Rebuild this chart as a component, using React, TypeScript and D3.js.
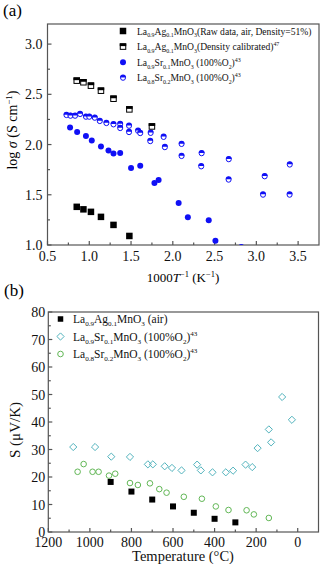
import { useEffect, useRef } from "react";
import * as d3 from "d3";

// (a) conductivity, x = 1000/T
const agInvT = [0.85, 0.93, 1.02, 1.14, 1.29, 1.48, 1.75];
const agRawLogS = [1.38, 1.355, 1.33, 1.28, 1.2, 1.09, 0.92];
const agCalLogS = [2.636, 2.62, 2.586, 2.536, 2.456, 2.35, 2.18];

const sr1InvT = [0.77, 0.855, 0.96, 1.03, 1.14, 1.23, 1.29, 1.37, 1.5, 1.61, 1.78, 1.83, 2.07, 2.18, 2.43, 2.51, 2.82];
const sr1LogS = [2.17, 2.126, 2.086, 2.04, 1.98, 1.94, 1.91, 1.917, 1.767, 1.79, 1.617, 1.647, 1.417, 1.277, 1.247, 1.043, 0.98];

const sr2InvT = [0.727, 0.775, 0.83, 0.89, 0.96, 1.0, 1.066, 1.126, 1.205, 1.29, 1.37, 1.37, 1.476, 1.476, 1.584, 1.61, 1.735, 1.73, 1.89, 1.905, 2.105, 2.105, 2.345, 2.34, 2.67, 2.668, 3.1, 3.08, 3.4, 3.398];
const sr2LogS = [2.293, 2.286, 2.286, 2.303, 2.276, 2.276, 2.266, 2.233, 2.213, 2.2, 2.203, 2.163, 2.186, 2.123, 2.136, 2.113, 2.115, 2.033, 2.075, 1.973, 2.005, 1.885, 1.913, 1.782, 1.853, 1.65, 1.683, 1.5, 1.8, 1.5];

// (b) Seebeck, x = temperature in C
const agTemp = [900, 800, 700, 600, 500, 400, 300];
const agSeebeck = [18.2, 14.7, 11.8, 9.3, 7.0, 4.8, 3.5];

const sr1Temp = [1080, 975, 897, 807, 721, 697, 640, 605, 559, 484, 466, 410, 346, 311, 251, 219, 193, 139, 128, 75, 28];
const sr1Seebeck = [30.9, 30.9, 27.4, 27.3, 24.6, 24.6, 23.9, 23.3, 22.4, 24.5, 22.4, 21.7, 21.7, 22.3, 24.5, 23.6, 30.5, 37.3, 32.6, 49.1, 40.8];

const sr2Temp = [1059, 1030, 987, 958, 908, 878, 807, 769, 711, 666, 631, 548, 461, 394, 333, 246, 211, 139];
const sr2Seebeck = [21.9, 24.7, 21.9, 21.9, 20.5, 21.2, 17.8, 17.1, 17.7, 15.6, 14.3, 12.8, 12.1, 9.3, 8.0, 7.9, 6.4, 5.1];

type Part = [string, string?];
const legendA: Part[][] = [
  [["La"], ["0.9", "sub"], ["Ag"], ["0.1", "sub"], ["MnO"], ["3", "sub"], ["(Raw data, air, Density=51%)"]],
  [["La"], ["0.9", "sub"], ["Ag"], ["0.1", "sub"], ["MnO"], ["3", "sub"], ["(Density calibrated)"], ["47", "sup"]],
  [["La"], ["0.9", "sub"], ["Sr"], ["0.1", "sub"], ["MnO"], ["3", "sub"], [" (100%O"], ["2", "sub"], [")"], ["43", "sup"]],
  [["La"], ["0.8", "sub"], ["Sr"], ["0.2", "sub"], ["MnO"], ["3", "sub"], [" (100%O"], ["2", "sub"], [")"], ["43", "sup"]],
];
const legendB: Part[][] = [
  [["La"], ["0.9", "sub"], ["Ag"], ["0.1", "sub"], ["MnO"], ["3", "sub"], [" (air)"]],
  [["La"], ["0.9", "sub"], ["Sr"], ["0.1", "sub"], ["MnO"], ["3", "sub"], [" (100%O"], ["2", "sub"], [")"], ["43", "sup"]],
  [["La"], ["0.8", "sub"], ["Sr"], ["0.2", "sub"], ["MnO"], ["3", "sub"], [" (100%O"], ["2", "sub"], [")"], ["43", "sup"]],
];

const FONT = "'Liberation Serif', 'Times New Roman', serif";
const BLUE = "#1010f5";
const CYAN = "#52b3bd";
const GREEN = "#62b756";

function formula(sel: any, parts: Part[], fs: number) {
  let shift = 0;
  parts.forEach(([t, k]) => {
    const target = k === "sub" ? fs * 0.3 : k === "sup" ? -fs * 0.4 : 0;
    sel.append("tspan")
      .attr("dy", target - shift)
      .attr("font-size", k ? fs * 0.62 : fs)
      .text(t);
    shift = target;
  });
}

// marker drawers, centered at 0,0
function filledSquare(g: any, s: number) {
  g.append("rect").attr("x", -s / 2).attr("y", -s / 2).attr("width", s).attr("height", s).attr("fill", "#000");
}
function halfSquare(g: any, s: number) {
  g.append("rect").attr("x", -s / 2 + 0.5).attr("y", -s / 2 + 0.5).attr("width", s - 1).attr("height", s - 1)
    .attr("fill", "#fff").attr("stroke", "#000").attr("stroke-width", 1);
  g.append("rect").attr("x", -s / 2).attr("y", -s / 2).attr("width", s).attr("height", s / 2 - 0.5).attr("fill", "#000");
}
function filledCircle(g: any, r: number) {
  g.append("circle").attr("r", r).attr("fill", BLUE);
}
function halfCircle(g: any, r: number) {
  g.append("circle").attr("r", r - 0.5).attr("fill", "#fff").attr("stroke", BLUE).attr("stroke-width", 1);
  g.append("path").attr("d", `M${-r},-0.4A${r},${r} 0 0 1 ${r},-0.4Z`).attr("fill", BLUE);
}
function openDiamond(g: any, s: number) {
  g.append("path").attr("d", `M0,${-s}L${s},0L0,${s}L${-s},0Z`).attr("fill", "none").attr("stroke", CYAN).attr("stroke-width", 1);
}
function openCircle(g: any, r: number) {
  g.append("circle").attr("r", r).attr("fill", "none").attr("stroke", GREEN).attr("stroke-width", 1);
}

function frameAxes(svg: any, x: any, y: any, xMajor: number[], xMinor: number[], yMajor: number[], yMinor: number[], xFmt: any, yFmt: any, yPad: number, xPad: number) {
  const [x0, x1] = x.range();
  const [y0, y1] = y.range();
  const ax = svg.append("g").attr("font-family", FONT);
  // frame
  ax.append("rect").attr("x", x0).attr("y", y1).attr("width", x1 - x0).attr("height", y0 - y1)
    .attr("fill", "none").attr("stroke", "#555").attr("stroke-width", 1.2);
  const tick = (x1a: number, y1a: number, x2a: number, y2a: number) =>
    ax.append("line").attr("x1", x1a).attr("y1", y1a).attr("x2", x2a).attr("y2", y2a).attr("stroke", "#555").attr("stroke-width", 1.2);
  xMajor.forEach((v) => tick(x(v), y0, x(v), y0 - 4));
  xMinor.forEach((v) => tick(x(v), y0, x(v), y0 - 2.5));
  yMajor.forEach((v) => tick(x0, y(v), x0 + 4, y(v)));
  yMinor.forEach((v) => tick(x0, y(v), x0 + 2.5, y(v)));
  ax.selectAll(".xl").data(xMajor).join("text")
    .attr("x", (d: number) => x(d)).attr("y", y0 + xPad).attr("text-anchor", "middle")
    .attr("font-size", 14).attr("fill", "#111").text(xFmt);
  ax.selectAll(".yl").data(yMajor).join("text")
    .attr("x", x0 - yPad).attr("y", (d: number) => y(d) + 5).attr("text-anchor", "end")
    .attr("font-size", 14).attr("fill", "#111").text(yFmt);
}

export default function App() {
  const svgRef = useRef<SVGSVGElement>(null);

  useEffect(() => {
    const svg = d3.select(svgRef.current);
    svg.selectAll("*").remove();

    // ---------- panel (a)
    const xa = d3.scaleLinear().domain([0.5, 3.75]).range([47.5, 319]);
    const ya = d3.scaleLinear().domain([1.0, 3.2]).range([245, 24]);

    svg.append("text").attr("x", 3).attr("y", 16).attr("font-family", FONT).attr("font-size", 17).text("(a)");

    frameAxes(svg, xa, ya,
      d3.range(0.5, 3.51, 0.5), d3.range(0.75, 3.75, 0.5),
      d3.range(1.0, 3.01, 0.5), d3.range(1.25, 3.2, 0.5),
      (d: number) => d.toFixed(1), (d: number) => d.toFixed(1), 5, 16);

    svg.append("clipPath").attr("id", "clipA").append("rect")
      .attr("x", 47.5).attr("y", 24).attr("width", 319 - 47.5).attr("height", 245 - 24);
    const pa = svg.append("g").attr("clip-path", "url(#clipA)");

    const put = (g: any, xs: number[], ys: number[], x: any, y: any, draw: (g: any) => void) => {
      xs.forEach((v, i) => {
        const m = g.append("g").attr("transform", `translate(${x(v)},${y(ys[i])})`);
        draw(m);
      });
    };
    put(pa, sr2InvT, sr2LogS, xa, ya, (m) => halfCircle(m, 3));
    put(pa, sr1InvT, sr1LogS, xa, ya, (m) => filledCircle(m, 3));
    put(pa, agInvT, agCalLogS, xa, ya, (m) => halfSquare(m, 6.5));
    put(pa, agInvT, agRawLogS, xa, ya, (m) => filledSquare(m, 6.5));

    // legend (a)
    const legA = svg.append("g").attr("font-family", FONT);
    const drawA = [(m: any) => filledSquare(m, 6.5), (m: any) => halfSquare(m, 6.5), (m: any) => filledCircle(m, 3), (m: any) => halfCircle(m, 3)];
    legendA.forEach((parts, i) => {
      const ry = 31 + i * 15.6;
      drawA[i](legA.append("g").attr("transform", `translate(123,${ry})`));
      formula(legA.append("text").attr("x", 137).attr("y", ry + 3.5).attr("fill", "#111"), parts, 9.6);
    });

    // axis titles (a)
    const ta = svg.append("text").attr("font-family", FONT).attr("font-size", 14).attr("text-anchor", "middle")
      .attr("transform", "translate(17,130) rotate(-90)");
    ta.append("tspan").text("log ");
    ta.append("tspan").attr("font-style", "italic").text("σ");
    ta.append("tspan").text(" (S cm");
    ta.append("tspan").attr("dy", -5).attr("font-size", 9).text("−1");
    ta.append("tspan").attr("dy", 5).text(")");

    const xta = svg.append("text").attr("font-family", FONT).attr("font-size", 13).attr("text-anchor", "middle")
      .attr("x", 183).attr("y", 282);
    xta.append("tspan").text("1000");
    xta.append("tspan").attr("font-style", "italic").text("T");
    xta.append("tspan").attr("dy", -5).attr("font-size", 8.5).text("−1");
    xta.append("tspan").attr("dy", 5).text(" (K");
    xta.append("tspan").attr("dy", -5).attr("font-size", 8.5).text("−1");
    xta.append("tspan").attr("dy", 5).text(")");

    // ---------- panel (b)
    const xb = d3.scaleLinear().domain([1200, -100]).range([48.3, 318.5]);
    const yb = d3.scaleLinear().domain([0, 80]).range([532, 312]);

    svg.append("text").attr("x", 4).attr("y", 296).attr("font-family", FONT).attr("font-size", 17).text("(b)");

    frameAxes(svg, xb, yb,
      d3.range(1200, -1, -200), d3.range(1100, -100, -200),
      d3.range(0, 81, 10), d3.range(5, 80, 10),
      (d: number) => String(d), (d: number) => String(d), 3, 14.5);

    const pb = svg.append("g");
    put(pb, sr1Temp, sr1Seebeck, xb, yb, (m) => openDiamond(m, 3.6));
    put(pb, sr2Temp, sr2Seebeck, xb, yb, (m) => openCircle(m, 2.8));
    put(pb, agTemp, agSeebeck, xb, yb, (m) => filledSquare(m, 6));

    const legB = svg.append("g").attr("font-family", FONT);
    const drawB = [(m: any) => filledSquare(m, 5.5), (m: any) => openDiamond(m, 3.6), (m: any) => openCircle(m, 2.8)];
    legendB.forEach((parts, i) => {
      const ry = 319 + i * 17.5;
      drawB[i](legB.append("g").attr("transform", `translate(60.5,${ry})`));
      formula(legB.append("text").attr("x", 73).attr("y", ry + 4).attr("fill", "#111"), parts, 11.5);
    });

    svg.append("text").attr("font-family", FONT).attr("font-size", 15).attr("text-anchor", "middle")
      .attr("transform", "translate(20,430) rotate(-90)").attr("fill", "#111").text("S (μV/K)");

    svg.append("text").attr("font-family", FONT).attr("font-size", 14.5).attr("text-anchor", "middle")
      .attr("x", 183).attr("y", 561).attr("fill", "#111").text("Temperature (°C)");
  }, []);

  return (
    <svg ref={svgRef} width={322} height={564}
      style={{ position: "absolute", left: 0, top: 0, background: "#fff" }} />
  );
}
